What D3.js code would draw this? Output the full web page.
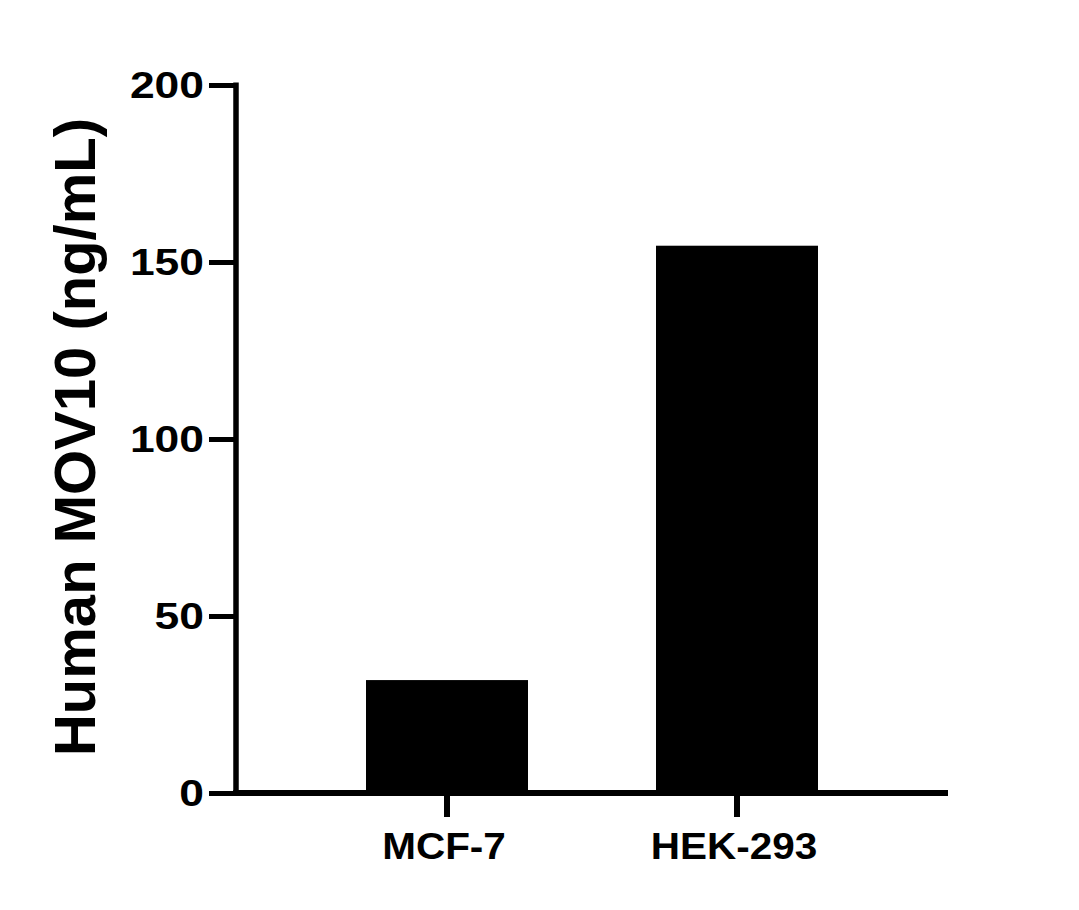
<!DOCTYPE html>
<html>
<head>
<meta charset="utf-8">
<script src="https://cdn.jsdelivr.net/npm/d3@7"></script>
<style>
  html, body { margin: 0; padding: 0; background: #fff; }
  svg { display: block; }
  text { font-family: "Liberation Sans", Arial, sans-serif; font-weight: bold; fill: #000; }
</style>
</head>
<body>
<svg id="chart" width="1079" height="910"></svg>
<script>
const categories = ["MCF-7", "HEK-293"];
const values = [31.9, 154.6];
const yTicks = [0, 50, 100, 150, 200];
const yLabel = "Human MOV10 (ng/mL)";

const svg = d3.select("#chart");

const x = d3.scaleBand()
  .domain(categories)
  .range([236, 948])
  .paddingInner(0.4414)
  .paddingOuter(0.4483);

const y = d3.scaleLinear().domain([0, 200]).range([793, 85]);

// bars
svg.append("g").selectAll("rect")
  .data(categories)
  .join("rect")
  .attr("x", d => x(d))
  .attr("width", x.bandwidth())
  .attr("y", (d, i) => y(values[i]))
  .attr("height", (d, i) => y(0) - y(values[i]))
  .attr("fill", "#000");

// y axis
const yScaleX = 1.2;
const yAxis = d3.axisLeft(y).tickValues(yTicks).tickSize(27).tickPadding(6).tickSizeOuter(0);
const gy = svg.append("g").attr("transform", "translate(236,0)").call(yAxis);
gy.select(".domain").attr("stroke", "#000").attr("stroke-width", 5.5)
  .attr("d", `M0,${y(200) - 2.5}V${y(0)}`);
gy.selectAll(".tick line").attr("stroke", "#000").attr("stroke-width", 5);
gy.selectAll(".tick text")
  .attr("font-size", 37)
  .attr("dy", "0.35em")
  .attr("x", -32 / yScaleX)
  .attr("transform", `scale(${yScaleX},1)`)
  .style("font-family", '"Liberation Sans", Arial, sans-serif')
  .style("font-weight", "bold")
  .attr("fill", "#000");

// x axis
const xScaleX = 1.08;
const xAxis = d3.axisBottom(x).tickSize(24).tickPadding(14).tickSizeOuter(0);
const gx = svg.append("g").attr("transform", "translate(0,793)").call(xAxis);
gx.select(".domain").attr("stroke", "#000").attr("stroke-width", 6)
  .attr("d", `M${236 - 2.8},0H948`);
gx.selectAll(".tick line").attr("stroke", "#000").attr("stroke-width", 6);
gx.selectAll(".tick text")
  .attr("font-size", 37.5)
  .attr("dy", null)
  .attr("y", 66)
  .attr("x", -3 / xScaleX)
  .attr("transform", `scale(${xScaleX},1)`)
  .style("font-family", '"Liberation Sans", Arial, sans-serif')
  .style("font-weight", "bold")
  .attr("fill", "#000");

// y label
svg.append("text")
  .attr("transform", "translate(95,437) rotate(-90)")
  .attr("text-anchor", "middle")
  .attr("font-size", 58)
  .text(yLabel);
</script>
</body>
</html>
